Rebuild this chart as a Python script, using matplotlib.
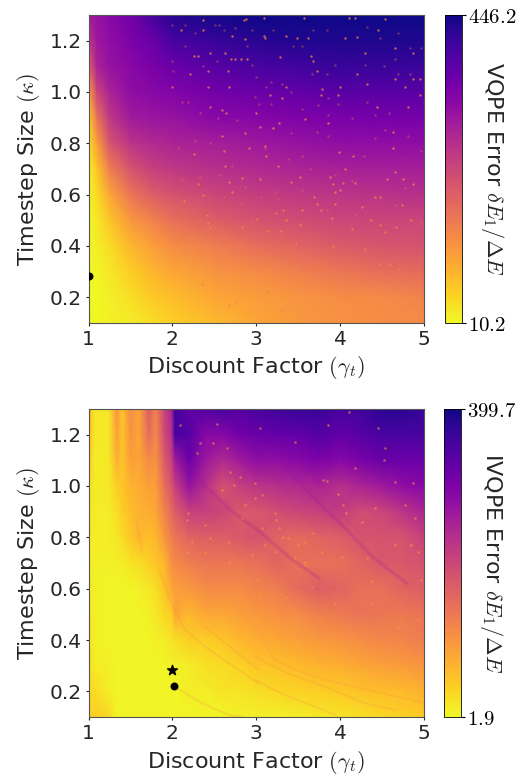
import matplotlib
matplotlib.use('Agg')
import matplotlib.pyplot as plt
from matplotlib.cm import ScalarMappable
from matplotlib.colors import Normalize
import numpy as np

plt.rcParams['mathtext.fontset'] = 'cm'

kappa = [1.3, 1.2, 1.1, 1.0, 0.9, 0.8, 0.7, 0.6, 0.5, 0.4, 0.3, 0.2, 0.1]

# position on the colour bar (0 = bottom, 1 = top)
vqpe_range = [10.2, 446.2]
vqpe_gamma = [1.0, 1.1, 1.25, 1.5, 1.75, 2.0, 2.5, 3.0, 3.5, 4.0, 4.5, 5.0]
vqpe_level = [
    [.65, .68, .72, .78, .88, .96, .99, 1.0, 1.0, 1.0, 1.0, 1.0],
    [.55, .66, .70, .75, .80, .88, .92, .95, .97, .97, .97, .97],
    [.40, .62, .68, .72, .76, .80, .85, .88, .90, .92, .92, .92],
    [.20, .50, .62, .70, .72, .74, .78, .80, .82, .84, .84, .84],
    [.10, .35, .55, .65, .67, .68, .72, .73, .75, .76, .77, .77],
    [.06, .22, .45, .56, .60, .62, .64, .66, .68, .70, .70, .70],
    [.03, .12, .32, .45, .52, .55, .58, .60, .62, .63, .64, .64],
    [.02, .07, .20, .34, .42, .46, .50, .53, .55, .56, .57, .58],
    [.01, .04, .12, .24, .30, .36, .42, .46, .48, .50, .50, .50],
    [.01, .02, .07, .16, .22, .27, .32, .37, .40, .43, .45, .46],
    [.01, .01, .04, .10, .16, .20, .25, .28, .31, .34, .37, .38],
    [.00, .00, .02, .06, .11, .14, .20, .23, .25, .27, .28, .30],
    [.02, .00, .02, .03, .06, .10, .15, .20, .24, .26, .27, .28],
]
vqpe_spots_x = [
    2.695, 2.75, 2.82, 2.89, 2.31, 2.26, 2.45, 2.68, 2.45, 2.59, 2.64, 3.0, 3.27, 3.35, 2.87, 3.09, 3.10,
    2.88, 3.09, 2.37, 2.10, 1.99, 3.31, 3.16, 2.66, 2.43, 2.21, 2.42, 3.35, 3.28, 2.85, 2.37, 2.71, 2.63,
    3.57, 3.62, 3.72, 4.0, 4.2, 4.2, 4.87, 4.81, 4.77, 4.18, 4.45, 3.78, 3.77, 4.44, 4.32, 4.95, 4.53,
    4.06, 3.65, 4.30, 4.65, 3.98, 3.58, 3.86, 4.95, 4.87, 4.10, 3.68, 3.49, 4.65,
    2.87, 3.20, 3.04, 3.10, 3.12, 2.63, 2.68, 2.71, 2.30, 2.14, 2.41, 2.37, 3.26, 3.04, 3.24, 3.30, 3.14,
    2.45, 2.59, 2.91, 2.43, 2.26, 2.83, 3.32, 3.35, 2.83, 3.01, 2.61, 3.42,
    4.63, 4.63, 4.0, 3.88, 3.69, 3.94, 3.92, 3.99, 4.15, 4.56, 4.74, 4.75, 4.42, 4.48, 3.54, 3.77, 4.26,
    4.37, 4.48, 4.67, 4.14, 4.53, 3.52, 4.65, 4.18, 4.03, 4.06, 3.94, 3.72, 3.9, 4.85, 3.52, 4.87,
    2.19, 2.52, 4.38, 2.68, 2.76, 4.30, 3.5, 4.59, 4.70, 4.19, 4.28, 3.70, 2.81, 3.29, 4.22, 4.94, 2.35,
    3.92, 3.47, 3.13, 2.53, 4.48,
]
vqpe_spots_kappa = [
    1.13, 1.13, 1.13, 1.13, 1.14, 1.14, 1.15, 1.02, .94, .93, .92, .92, .88, 1.02, 1.205, 1.22, 1.21,
    1.285, 1.29, 1.24, 1.24, 1.02, .975, .99, 1.08, 1.02, 1.07, 1.08, 1.22, 1.135, 1.28, 1.28, 1.22, 1.15,
    1.29, 1.21, 1.08, 1.02, 1.215, 1.07, 1.15, .94, 1.02, 1.29, 1.24, 1.01, .99, .94, 1.03, 1.05, 1.285,
    1.21, 1.14, 1.15, 1.05, .99, .895, .88, .99, 1.05, 1.29, 1.12, 1.21, 1.17,
    .84, .86, .865, .79, .75, .71, .65, .61, .64, .575, .52, .60, .71, .66, .53, .46, .46,
    .47, .83, .78, .49, .76, .665, .54, .50, .475, .505, .77, .65,
    .845, .78, .62, .67, .59, .61, .64, .765, .75, .66, .56, .66, .59, .59, .54, .54, .55,
    .50, .48, .475, .465, .455, .48, .69, .645, .645, .70, .565, .565, .51, .50, .67, .64,
    .43, .35, .22, .17, .18, .39, .32, .33, .31, .28, .24, .29, .40, .15, .14, .12, .25,
    .40, .41, .22, .41, .33,
]
vqpe_faint_x = [
    2.0, 2.15, 2.01, 2.53, 2.37, 2.95, 3.0, 3.18, 3.12, 2.11, 2.19, 2.33, 2.54, 2.77, 2.98, 3.03, 3.18, 3.31,
    3.42, 2.51, 2.61, 2.75, 2.95, 3.20, 3.44, 2.89, 2.55, 2.27, 2.15, 2.0,
    3.68, 3.84, 3.54, 3.66, 3.84, 3.94, 4.30, 4.52, 4.69, 4.83, 3.74, 3.86, 3.98, 4.32, 4.58, 3.54, 4.83, 4.69,
    4.32, 4.48, 3.86, 4.14, 4.42, 4.65, 4.97,
    2.27, 2.45, 2.07, 2.33, 2.11, 2.83, 3.06, 3.22, 2.87, 2.55, 2.71, 3.38, 3.26, 2.95, 3.10, 3.42, 2.15, 2.61,
    3.72, 3.86, 3.54, 3.64, 4.42, 4.28, 4.53, 4.81, 4.97, 4.77, 4.14, 3.54, 4.65, 3.84, 4.18, 4.97, 3.94,
]
vqpe_faint_kappa = [
    1.12, 1.18, 1.08, 1.12, 1.10, 1.105, 1.06, 1.04, 1.02, .96, .96, .92, .90, .89, .98, .955, .955, 1.03,
    1.0, 1.26, 1.24, 1.25, 1.24, 1.24, 1.18, 1.18, 1.26, 1.23, 1.26, 1.26,
    1.24, 1.24, 1.18, 1.07, 1.07, 1.105, 1.105, 1.10, 1.07, 1.07, .95, .975, .955, .96, .92, .935, 1.17, 1.23,
    1.255, 1.21, .91, .90, .91, 1.13, 1.17,
    .81, .80, .78, .67, .66, .565, .59, .61, .63, .676, .71, .74, .585, .495, .78, .84, .54, .59,
    .845, .83, .75, .70, .82, .75, .85, .83, .77, .625, .655, .62, .56, .54, .52, .49, .675,
]

ivqpe_range = [1.9, 399.7]
ivqpe_gamma = [1.0, 1.04, 1.08, 1.24, 1.34, 1.40, 1.50, 1.60, 1.72, 1.80, 1.90, 1.99, 2.03,
               2.2, 2.4, 2.6, 2.8, 3.0, 3.25, 3.5, 3.75, 4.0, 4.25, 4.5, 4.75, 5.0]
ivqpe_level = [
    [.30, .08, .04, .04, .25, .12, .28, .20, .42, .30, .50, .62, .90, .82, .85, .88, .85, .88, .90, .92, .92, .88, .90, .95, .95, .92],
    [.20, .08, .04, .04, .22, .12, .25, .20, .38, .28, .48, .58, .88, .85, .72, .72, .78, .80, .82, .82, .85, .82, .85, .88, .88, .88],
    [.10, .07, .03, .04, .18, .12, .22, .20, .28, .25, .42, .52, .65, .80, .66, .60, .65, .70, .70, .72, .75, .72, .76, .80, .80, .80],
    [.06, .05, .03, .04, .10, .12, .17, .18, .22, .22, .36, .45, .52, .68, .58, .46, .52, .56, .58, .60, .62, .58, .62, .66, .70, .72],
    [.04, .04, .03, .03, .06, .10, .14, .17, .18, .20, .30, .38, .42, .52, .52, .50, .44, .44, .48, .50, .52, .54, .48, .50, .56, .62],
    [.03, .03, .03, .03, .04, .07, .12, .16, .14, .16, .24, .32, .34, .40, .42, .42, .44, .46, .40, .38, .40, .42, .46, .46, .46, .52],
    [.03, .03, .02, .02, .03, .03, .05, .06, .10, .12, .16, .26, .28, .32, .34, .34, .34, .36, .40, .36, .36, .36, .40, .44, .44, .46],
    [.03, .03, .02, .01, .01, .01, .01, .02, .04, .06, .12, .20, .22, .24, .28, .28, .28, .30, .32, .38, .42, .40, .36, .36, .40, .42],
    [.04, .03, .02, .01, .01, .01, .01, .01, .02, .04, .08, .10, .20, .16, .20, .20, .22, .24, .26, .28, .31, .33, .35, .34, .33, .35],
    [.05, .04, .02, .01, .01, .01, .01, .01, .01, .02, .03, .05, .06, .10, .10, .12, .16, .18, .20, .22, .24, .25, .27, .29, .30, .32],
    [.06, .05, .03, .02, .01, .01, .01, .01, .01, .01, .01, .02, .02, .03, .06, .07, .09, .12, .13, .15, .17, .18, .20, .22, .23, .25],
    [.08, .07, .07, .03, .01, .01, .01, .01, .01, .01, .01, .01, .01, .03, .03, .05, .05, .06, .08, .09, .10, .11, .13, .14, .15, .17],
    [.10, .10, .10, .08, .01, .01, .01, .01, .01, .01, .01, .01, .01, .01, .01, .01, .02, .02, .02, .03, .04, .05, .06, .08, .09, .11],
]
ivqpe_spots_x = [
    3.80, 3.84, 3.98, 4.04, 4.07, 3.22, 3.24, 3.27, 3.32, 3.10, 3.38, 3.50, 3.58, 3.68, 3.78, 4.02, 4.26, 4.42,
    4.52, 4.535, 4.65, 4.87, 4.77, 4.65, 4.85, 4.93, 4.18, 3.86, 4.10, 3.46, 3.065, 2.985, 3.065, 3.22, 3.46,
    3.58, 4.32, 4.89, 3.045, 4.455,
    2.33, 2.49, 2.29, 2.53, 2.65, 2.69, 2.59, 2.81, 2.87, 2.19, 2.17, 2.39, 2.45, 2.23, 2.39, 2.19, 2.09, 2.73,
    2.99, 2.83, 2.67, 2.95, 2.67,
    3.58, 4.38, 3.025, 3.36, 3.78, 4.38, 4.18, 4.50, 4.93, 4.69, 3.94, 3.22, 3.50, 3.065, 3.045, 3.66, 4.73,
    4.28, 4.97,
]
ivqpe_spots_kappa = [
    1.023, 1.02, .97, .926, .893, .893, .868, .835, .803, .77, .796, .77, .783, .816, .744, .725, .861, .913,
    1.101, 1.147, 1.017, 1.01, .926, .77, .77, .744, 1.069, 1.238, 1.29, 1.173, .965, .952, .835, .744, .718,
    .705, .718, .874, 1.225, 1.225,
    1.166, 1.166, 1.13, 1.24, 1.147, 1.056, .984, 1.036, .926, .893, .868, .848, .796, .783, .738, .744, 1.238, 1.004,
    1.01, .874, .783, .731, .705,
    .693, .628, .634, .569, .465, .543, .40, .361, .478, .452, .543, .491, .413, .42, .582, .608, .296,
    .316, .634,
]
# faint arcs seen in the lower right of the IVQPE map: (gamma list, kappa list)
ivqpe_arcs = [
    ([1.85, 1.99, 2.15, 2.39, 2.67, 3.03], [.67, .543, .44, .375, .31, .23]),
    ([2.07, 2.35, 2.67, 2.85], [.21, .154, .108, .1]),
    ([2.39, 3.03], [.452, .283]),
    ([2.985, 3.38, 3.82, 4.3, 4.65], [.335, .27, .218, .153, .128]),
    ([2.985, 3.22, 3.58, 3.98, 4.5, 5.0], [.452, .322, .27, .232, .193, .154]),
    ([2.985, 3.3, 3.7, 3.94], [.244, .192, .14, .108]),
    ([1.56, 1.60, 1.64], [.874, .81, .744]),
]
# dark ridges in the upper right of the IVQPE map
ivqpe_ridges = [
    ([2.15, 2.4, 2.71, 3.05, 3.4, 3.75], [1.09, 1.0, .9, .82, .72, .64]),
    ([3.38, 3.7, 4.06, 4.4, 4.8], [1.06, .95, .835, .72, .62]),
]

dot_vqpe_gamma = [1.0]
dot_vqpe_kappa = [0.285]
dot_ivqpe_gamma = [2.02]
dot_ivqpe_kappa = [0.22]
star_ivqpe_gamma = [2.0]
star_ivqpe_kappa = [0.283]

W, H = 527, 778
cmap = plt.get_cmap('plasma_r')


def panel(fig, top, left_cb, gamma, level, rng, cb_label):
    ax = fig.add_axes([88.5 / W, 1 - (top + 308) / H, 335.5 / W, 308 / H])
    lo, hi = rng
    err = lo + np.array(level) * (hi - lo)
    norm = Normalize(lo, hi)
    ax.pcolormesh(gamma, kappa, err, shading='gouraud', cmap=cmap, norm=norm)
    ax.set_xlim(1, 5)
    ax.set_ylim(0.1, 1.3)
    ax.set_xticks([1, 2, 3, 4, 5])
    ax.set_yticks([0.2, 0.4, 0.6, 0.8, 1.0, 1.2])
    ax.tick_params(labelsize=14.5, colors='#262626', width=0.8, length=2.5, pad=2.5)
    ax.set_xlabel(r'Discount Factor $(\gamma_t)$', fontsize=16, color='#262626', labelpad=4)
    ax.set_ylabel(r'Timestep Size $(\kappa)$', fontsize=16, color='#262626', labelpad=5)
    for s in ax.spines.values():
        s.set_color('#555555')
        s.set_linewidth(0.8)

    cax = fig.add_axes([left_cb / W, 1 - (top + 308) / H, 16.5 / W, 308 / H])
    cb = fig.colorbar(ScalarMappable(norm=norm, cmap=cmap), cax=cax)
    cb.set_ticks([lo, hi])
    cb.set_ticklabels(['$%.1f$' % lo, '$%.1f$' % hi])
    cb.ax.tick_params(labelsize=15, width=0.8, length=3, pad=2)
    cb.outline.set_linewidth(0.6)
    cb.set_label(cb_label, fontsize=16, rotation=270, labelpad=-8, color='#262626')
    return ax


fig = plt.figure(figsize=(W / 100, H / 100), dpi=100)

ax1 = panel(fig, 15, 445, vqpe_gamma, vqpe_level, vqpe_range, r'VQPE Error $\delta E_1 / \Delta E$')
ax1.scatter(vqpe_faint_x, vqpe_faint_kappa, s=3, color=cmap(0.35), linewidths=0, alpha=0.4)
ax1.scatter(vqpe_spots_x, vqpe_spots_kappa, s=3, color=cmap(0.3), linewidths=0, alpha=0.75)
ax1.scatter(dot_vqpe_gamma, dot_vqpe_kappa, s=22, color='black', zorder=5)

ax2 = panel(fig, 409, 444, ivqpe_gamma, ivqpe_level, ivqpe_range, r'IVQPE Error $\delta E_1 / \Delta E$')
for g, k in ivqpe_ridges:
    ax2.plot(g, k, color=cmap(0.68), lw=2.5, alpha=0.18, solid_capstyle='round')
for g, k in ivqpe_arcs:
    ax2.plot(g, k, color=cmap(0.24), lw=1.3, alpha=0.28, solid_capstyle='round')
ax2.scatter(ivqpe_spots_x, ivqpe_spots_kappa, s=3.5, color=cmap(0.24), linewidths=0, alpha=0.55)
ax2.scatter(dot_ivqpe_gamma, dot_ivqpe_kappa, s=22, color='black', zorder=5)
ax2.scatter(star_ivqpe_gamma, star_ivqpe_kappa, s=55, marker='*', color='black', zorder=5)

fig.savefig('out.png', dpi=100)
